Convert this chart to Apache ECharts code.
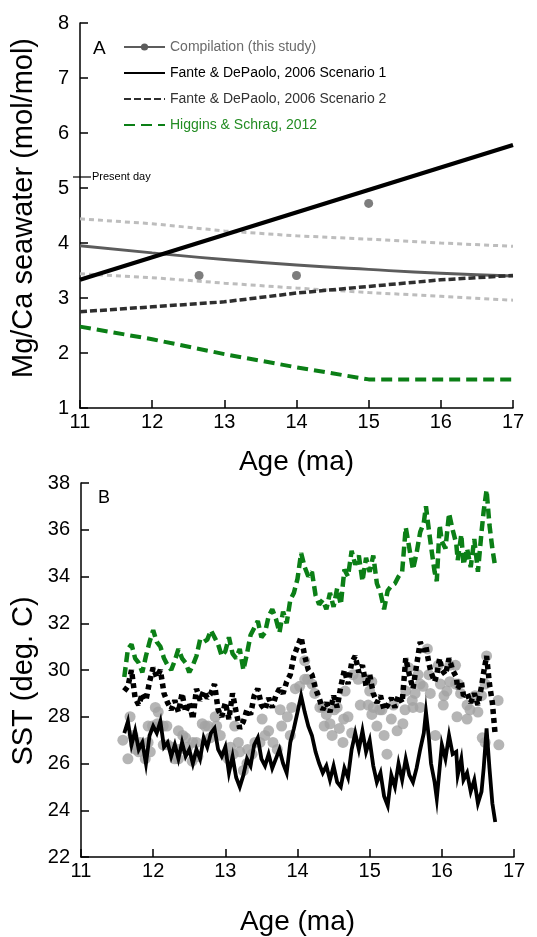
<!DOCTYPE html>
<html><head><meta charset="utf-8">
<script src="https://cdn.jsdelivr.net/npm/echarts@6/dist/echarts.min.js"></script>
<style>html,body{margin:0;padding:0;background:#fff}#c{width:537px;height:937px}</style>
</head><body><div id="c"></div>
<script>
// ---------- Panel A: seawater Mg/Ca ----------
const agesA = [11, 12, 13, 14, 15, 16, 17];
const compMgCa = [3.95, 3.82, 3.70, 3.60, 3.52, 3.45, 3.40];
const compUpper = [4.44, 4.35, 4.22, 4.13, 4.07, 4.00, 3.94];
const compLower = [3.44, 3.37, 3.27, 3.18, 3.10, 3.03, 2.96];
const fdp1Ages = [11, 17];
const fdp1MgCa = [3.33, 5.78];
const fdp2MgCa = [2.75, 2.84, 2.93, 3.09, 3.21, 3.33, 3.41];
const hsMgCa = [2.48, 2.25, 1.98, 1.74, 1.52, 1.52, 1.52];
const compPtAges = [12.65, 14.0, 15.0];
const compPtMgCa = [3.41, 3.41, 4.72];
const presentDay = 5.2;

// ---------- Panel B: SST ----------
const sstAges = [11.60,11.65,11.70,11.75,11.80,11.85,11.90,11.95,12.00,12.05,12.10,12.15,12.20,12.25,12.30,12.35,12.40,12.45,12.50,12.55,12.60,12.65,12.70,12.75,12.80,12.85,12.90,12.95,13.00,13.05,13.10,13.15,13.20,13.25,13.30,13.35,13.40,13.45,13.50,13.55,13.60,13.65,13.70,13.75,13.80,13.85,13.90,13.95,14.00,14.05,14.10,14.15,14.20,14.25,14.30,14.35,14.40,14.45,14.50,14.55,14.60,14.65,14.70,14.75,14.80,14.85,14.90,14.95,15.00,15.05,15.10,15.15,15.20,15.25,15.30,15.35,15.40,15.45,15.50,15.55,15.60,15.65,15.70,15.75,15.78,15.82,15.85,15.90,15.93,15.97,16.00,16.05,16.10,16.15,16.20,16.22,16.27,16.30,16.35,16.40,16.45,16.50,16.55,16.58,16.62,16.66,16.70,16.74];
const hsSST = [29.7,30.9,31.1,30.5,30.3,29.9,30.6,31.2,31.7,31.2,31.0,30.5,30.2,30.0,30.4,30.9,30.5,30.3,29.9,30.2,30.6,31.3,31.2,31.3,31.7,31.4,31.1,30.6,30.8,31.4,30.7,30.5,30.9,30.0,30.7,31.5,31.8,32.1,31.4,31.6,32.3,32.6,32.2,31.6,32.5,32.0,33.0,33.3,33.9,35.0,34.4,34.0,34.2,33.2,32.8,33.0,32.6,33.3,32.7,33.5,32.8,34.3,34.0,35.1,34.5,34.9,33.8,34.8,34.2,34.9,33.7,33.3,32.6,33.4,33.6,33.7,34.0,34.2,36.1,35.2,34.3,35.0,35.9,36.3,37.0,36.0,35.3,34.2,33.8,36.2,35.5,35.2,36.7,36.0,35.4,34.7,35.8,34.5,35.2,34.4,35.6,34.2,35.9,36.8,37.7,36.2,35.2,34.4];
const fdp2SST = [29.1,29.3,30.0,28.8,28.5,29.0,28.7,29.5,30.1,29.7,30.0,29.0,28.6,28.3,28.7,28.2,29.0,28.2,28.6,27.9,29.2,28.7,29.1,28.8,29.0,29.4,28.3,28.0,28.6,27.9,29.0,28.2,27.5,27.8,28.3,28.1,28.9,29.2,28.5,28.3,28.8,28.4,28.9,29.2,29.0,29.5,29.8,30.6,31.0,31.4,30.6,30.0,29.8,29.2,28.8,28.3,28.6,28.2,28.9,28.4,29.3,30.0,29.4,30.3,30.6,29.9,30.2,29.3,29.8,29.0,28.6,28.9,28.3,28.5,28.8,28.4,28.9,28.6,30.5,29.8,29.2,30.2,31.2,30.8,31.0,30.3,29.9,29.5,29.8,30.5,30.0,29.8,30.5,30.0,29.7,29.2,29.5,28.9,29.0,28.6,29.0,28.5,29.3,29.9,30.6,29.4,28.6,27.2];
const fdp1SST = [27.3,27.8,26.8,27.4,26.6,26.9,26.0,27.2,27.6,27.3,27.8,26.7,26.9,26.3,26.8,26.2,26.9,26.3,26.6,26.0,26.6,26.2,27.1,26.7,27.3,27.5,26.6,26.3,26.7,25.6,26.3,25.4,25.0,25.5,26.2,25.9,26.8,27.1,26.2,25.9,26.4,25.8,26.2,26.6,26.0,25.6,26.9,27.5,28.2,28.9,28.2,27.6,27.2,26.5,26.0,25.6,25.9,25.3,25.9,25.2,25.0,25.8,25.4,26.6,27.3,26.6,27.4,26.5,27.0,25.9,25.2,25.6,24.6,24.2,25.5,25.0,26.0,25.3,26.2,25.5,25.2,25.8,26.6,27.3,28.2,27.1,26.0,25.2,24.5,25.8,26.8,26.2,27.2,26.4,26.5,25.5,26.2,25.3,25.6,24.8,25.3,24.3,24.8,25.8,27.5,25.8,24.3,23.5];
const compAges = [11.58,11.65,11.68,11.72,11.74,11.76,11.80,11.82,11.89,11.93,11.93,11.96,11.99,12.03,12.07,12.06,12.10,12.14,12.19,12.14,12.20,12.27,12.30,12.35,12.35,12.36,12.41,12.45,12.48,12.54,12.55,12.60,12.62,12.68,12.72,12.76,12.79,12.86,12.88,12.93,13.00,13.04,13.07,13.11,13.13,13.18,13.20,13.25,13.30,13.31,13.37,13.41,13.48,13.51,13.55,13.60,13.66,13.72,13.76,13.78,13.86,13.90,13.92,13.97,14.03,14.10,14.10,14.14,14.20,14.24,14.31,14.35,14.37,14.40,14.45,14.48,14.51,14.55,14.58,14.63,14.64,14.66,14.70,14.75,14.77,14.84,14.87,14.98,15.03,15.00,14.98,15.03,15.05,15.10,15.14,15.17,15.20,15.24,15.30,15.33,15.38,15.46,15.50,15.49,15.54,15.59,15.60,15.63,15.67,15.70,15.70,15.74,15.80,15.82,15.84,15.91,15.95,15.98,16.02,16.03,16.07,16.11,16.11,16.19,16.19,16.23,16.21,16.26,16.35,16.35,16.39,16.46,16.50,16.55,16.56,16.60,16.60,16.62,16.78,16.79];
const compSST = [27.0,26.2,28.0,27.2,26.8,26.6,26.5,26.9,26.2,26.9,27.6,26.5,27.6,28.4,28.2,27.7,27.6,27.6,27.6,26.8,26.8,26.7,26.2,26.2,27.4,26.6,27.2,27.1,26.7,26.1,26.9,26.9,26.3,27.7,27.6,27.6,27.1,28.0,27.6,27.2,26.4,26.2,26.7,26.4,27.6,26.9,26.5,25.7,26.0,26.6,26.4,26.9,26.9,27.9,27.2,27.4,26.9,26.6,28.3,27.6,28.0,27.2,28.4,29.2,29.3,30.4,29.6,29.6,29.4,29.0,28.4,28.4,27.6,28.1,27.7,27.2,28.3,28.4,27.5,26.9,27.9,29.1,28.0,27.3,29.8,29.6,28.5,29.6,29.5,29.1,28.5,28.1,28.4,27.6,28.3,28.3,27.2,26.4,27.9,28.5,27.4,27.7,29.1,28.3,30.1,28.7,28.4,29.0,29.8,29.4,28.4,29.3,30.9,29.8,29.0,27.2,30.2,29.4,28.5,28.9,29.1,30.2,29.5,30.2,29.4,29.4,28.0,29.0,28.5,27.9,28.3,28.9,28.2,28.9,27.1,26.9,29.4,30.6,28.7,26.8];

const FONT = 'Liberation Sans, Arial, Helvetica, sans-serif';
const pair = (xs, ys) => xs.map((x, i) => [x, ys[i]]);

function xAx(gi, gap) {
  return {
    gridIndex: gi, type: 'value', min: 11, max: 17, interval: 1,
    axisLine: {show: true, onZero: false, lineStyle: {color: '#000', width: 1.5}},
    axisTick: {show: true, inside: true, length: 8, lineStyle: {color: '#000', width: 1.5}},
    splitLine: {show: false},
    axisLabel: {color: '#000', fontSize: 20, fontFamily: FONT, margin: 4},
    name: 'Age (ma)', nameLocation: 'middle', nameGap: gap,
    nameTextStyle: {color: '#000', fontSize: 28, fontFamily: FONT}
  };
}
function yAx(gi, min, max, interval) {
  return {
    gridIndex: gi, type: 'value', min, max, interval,
    axisLine: {show: true, onZero: false, lineStyle: {color: '#000', width: 1.5}},
    axisTick: {show: true, inside: true, length: 8, lineStyle: {color: '#000', width: 1.5}},
    splitLine: {show: false},
    axisLabel: {color: '#000', fontSize: 20, fontFamily: FONT, margin: 11}
  };
}

const GREEN = '#0b7f16';
const chart = echarts.init(document.getElementById('c'), null, {renderer: 'canvas'});
const hideSym = {opacity: 0};
const option = {
  animation: false,
  backgroundColor: '#fff',
  grid: [
    {left: 80, top: 23, width: 433, height: 385},
    {left: 81, top: 483, width: 433, height: 386}
  ],
  xAxis: [xAx(0, 40), xAx(1, 51)],
  yAxis: [yAx(0, 1, 8, 1), yAx(1, 22, 38, 2)],
  legend: {
    orient: 'vertical', left: 123, top: 40, padding: 0, itemWidth: 41, itemHeight: 9, itemGap: 12,
    selectedMode: false,
    textStyle: {fontSize: 14, fontFamily: FONT},
    data: [
      {name: 'Compilation (this study)', textStyle: {color: '#6a6a6a'}},
      {name: 'Fante & DePaolo, 2006 Scenario 1', textStyle: {color: '#000'}, itemStyle: hideSym},
      {name: 'Fante & DePaolo, 2006 Scenario 2', textStyle: {color: '#333'}, itemStyle: hideSym},
      {name: 'Higgins & Schrag, 2012', textStyle: {color: '#238c23'}, itemStyle: hideSym}
    ]
  },
  series: [
    {name: 'upper', type: 'line', xAxisIndex: 0, yAxisIndex: 0, data: pair(agesA, compUpper),
      showSymbol: false, lineStyle: {color: '#bdbdbd', width: 3, type: [5, 4]}},
    {name: 'lower', type: 'line', xAxisIndex: 0, yAxisIndex: 0, data: pair(agesA, compLower),
      showSymbol: false, lineStyle: {color: '#bdbdbd', width: 3, type: [5, 4]}},
    {name: 'Compilation (this study)', type: 'line', xAxisIndex: 0, yAxisIndex: 0, data: pair(agesA, compMgCa),
      symbol: 'circle', symbolSize: 8, showSymbol: false, smooth: true,
      lineStyle: {color: '#5c5c5c', width: 2.8}, itemStyle: {color: '#5c5c5c'}},
    {name: 'Fante & DePaolo, 2006 Scenario 1', type: 'line', xAxisIndex: 0, yAxisIndex: 0, data: pair(fdp1Ages, fdp1MgCa),
      symbol: 'none', lineStyle: {color: '#000', width: 4.2}, itemStyle: {color: '#000'}},
    {name: 'Fante & DePaolo, 2006 Scenario 2', type: 'line', xAxisIndex: 0, yAxisIndex: 0, data: pair(agesA, fdp2MgCa),
      symbol: 'none', lineStyle: {color: '#2e2e2e', width: 3.5, type: [7, 3]}, itemStyle: {color: '#2e2e2e'}},
    {name: 'Higgins & Schrag, 2012', type: 'line', xAxisIndex: 0, yAxisIndex: 0, data: pair(agesA, hsMgCa),
      symbol: 'none', lineStyle: {color: GREEN, width: 4, type: [11, 6]}, itemStyle: {color: GREEN}},
    {name: 'compPts', type: 'scatter', xAxisIndex: 0, yAxisIndex: 0, data: pair(compPtAges, compPtMgCa),
      symbolSize: 9, itemStyle: {color: '#5c5c5c'}},

    {name: 'hsSST', type: 'line', xAxisIndex: 1, yAxisIndex: 1, data: pair(sstAges, hsSST),
      showSymbol: false, lineStyle: {color: GREEN, width: 4.5, type: [10, 5]}},
    {name: 'fdp1SST', type: 'line', xAxisIndex: 1, yAxisIndex: 1, data: pair(sstAges, fdp1SST),
      showSymbol: false, lineStyle: {color: '#000', width: 3.8, join: 'miter'}},
    {name: 'compSST', type: 'scatter', xAxisIndex: 1, yAxisIndex: 1, data: pair(compAges, compSST),
      symbolSize: 11, itemStyle: {color: '#a2a2a2'}},
    {name: 'fdp2SST', type: 'line', xAxisIndex: 1, yAxisIndex: 1, data: pair(sstAges, fdp2SST),
      showSymbol: false, lineStyle: {color: '#000', width: 5.5, type: [5, 4]}}
  ]
};
chart.setOption(option);

const p = chart.convertToPixel({xAxisIndex: 0, yAxisIndex: 0}, [11, presentDay]);
chart.setOption({
  graphic: [
    {type: 'text', left: 93, top: 39, style: {text: 'A', fontSize: 19, fontFamily: FONT, fill: '#000'}},
    {type: 'text', left: 98, top: 489, style: {text: 'B', fontSize: 18, fontFamily: FONT, fill: '#000'}},
    {type: 'line', shape: {x1: p[0] - 7, y1: p[1], x2: p[0] + 11, y2: p[1]}, style: {stroke: '#000', lineWidth: 1.2}},
    {type: 'text', x: p[0] + 12, y: p[1], style: {text: 'Present day', fontSize: 11, fontFamily: FONT, fill: '#000', verticalAlign: 'middle'}},
    {type: 'text', x: 24, y: 208, rotation: Math.PI / 2,
      style: {text: 'Mg/Ca seawater (mol/mol)', fontSize: 29, fontFamily: FONT, fill: '#000', align: 'center', verticalAlign: 'middle'}},
    {type: 'text', x: 24, y: 681, rotation: Math.PI / 2,
      style: {text: 'SST (deg. C)', fontSize: 29, fontFamily: FONT, fill: '#000', align: 'center', verticalAlign: 'middle'}}
  ]
});
</script>
</body></html>
